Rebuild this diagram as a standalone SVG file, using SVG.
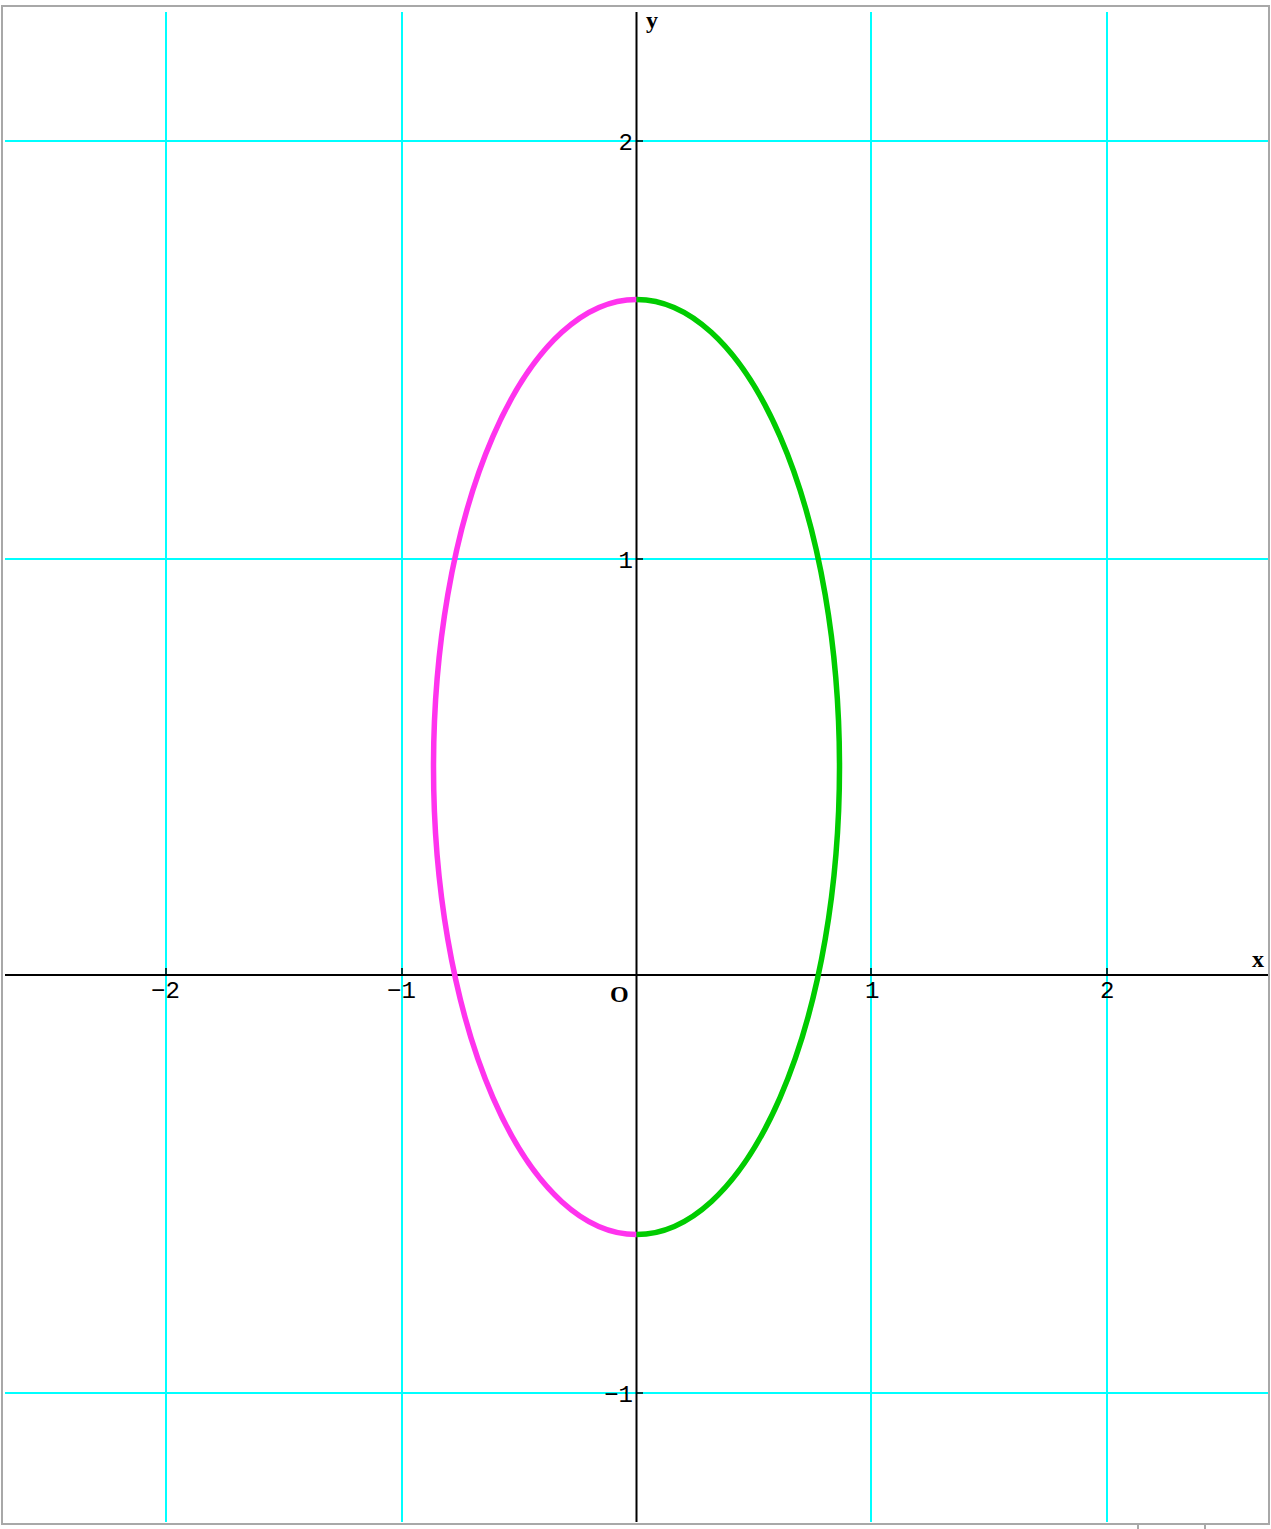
<svg xmlns="http://www.w3.org/2000/svg" width="1271" height="1529" viewBox="0 0 1271 1529">
<style>
.grid{stroke:#00ffff;stroke-width:2;fill:none}
.axis{stroke:#000;stroke-width:2;fill:none}
.tick{stroke:#000;stroke-width:1.5}
.num{font-family:"Liberation Mono","DejaVu Sans Mono",monospace;font-size:24px;fill:#000}
.var{font-family:"Liberation Serif","DejaVu Serif",serif;font-weight:bold;font-size:24px;fill:#000}
.curve{fill:none;stroke-width:5.5;stroke-linecap:butt}
</style>
<rect x="0" y="0" width="1271" height="1529" fill="#ffffff"/>
<rect id="frame" x="2" y="6" width="1267" height="1518" fill="#ffffff" stroke="#a8a8a8" stroke-width="2"/>
<g id="frame-bottom" stroke="#a8a8a8" stroke-width="2">
<line x1="1138" y1="1525" x2="1138" y2="1529"/>
<line x1="1205" y1="1525" x2="1205" y2="1529"/>
</g>
<g id="grid" class="grid">
<line x1="166" y1="12" x2="166" y2="1522"/>
<line x1="402" y1="12" x2="402" y2="1522"/>
<line x1="871" y1="12" x2="871" y2="1522"/>
<line x1="1107" y1="12" x2="1107" y2="1522"/>
<line x1="5" y1="141" x2="1268" y2="141"/>
<line x1="5" y1="559" x2="1268" y2="559"/>
<line x1="5" y1="1393" x2="1268" y2="1393"/>
</g>
<g id="axes">
<line class="axis" x1="5" y1="975" x2="1268" y2="975"/>
<line class="axis" x1="636.5" y1="12" x2="636.5" y2="1522"/>
<g class="tick">
<line x1="166" y1="968" x2="166" y2="975"/>
<line x1="402" y1="968" x2="402" y2="975"/>
<line x1="871" y1="968" x2="871" y2="975"/>
<line x1="1107" y1="968" x2="1107" y2="975"/>
<line x1="636.5" y1="141" x2="643" y2="141"/>
<line x1="636.5" y1="559" x2="643" y2="559"/>
<line x1="636.5" y1="1393" x2="643" y2="1393"/>
</g>
</g>
<g id="labels">
<text class="num" x="151" y="998">−2</text>
<text class="num" x="387" y="998">−1</text>
<text class="num" x="865" y="998">1</text>
<text class="num" x="1100" y="998">2</text>
<text class="num" x="633" y="150" text-anchor="end">2</text>
<text class="num" x="633" y="568" text-anchor="end">1</text>
<text class="num" x="633" y="1402" text-anchor="end">−1</text>
<text class="var" x="610" y="1002" font-size="25">O</text>
<text class="var" x="646" y="28">y</text>
<text class="var" x="1252" y="967">x</text>
</g>
<g id="curve">
<path id="left-half" class="curve" stroke="#ff33ee" d="M636.5 299.5 A203 467.5 0 0 0 636.5 1234.5"/>
<path id="right-half" class="curve" stroke="#00cc00" d="M636.5 299.5 A203 467.5 0 0 1 636.5 1234.5"/>
</g>
</svg>
